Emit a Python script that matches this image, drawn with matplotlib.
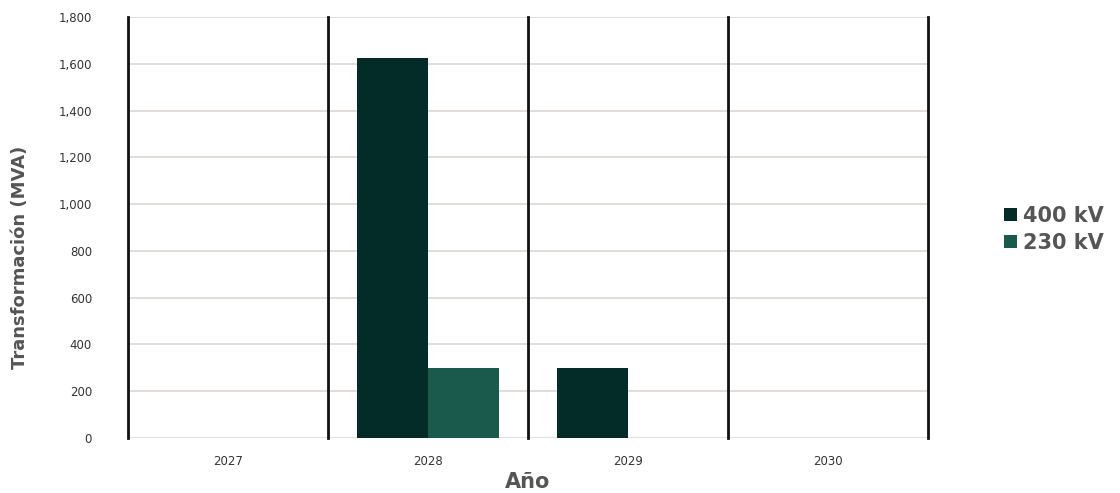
import matplotlib
matplotlib.use("Agg")
import matplotlib.pyplot as plt
import numpy as np
from matplotlib.ticker import FuncFormatter

years = ["2027", "2028", "2029", "2030"]
mva_400 = [0, 1625, 300, 0]
mva_230 = [0, 300, 0, 0]
series_labels = ["400 kV", "230 kV"]
colors = ["#032b27", "#1a5a4d"]

plt.rcParams["font.family"] = ["DejaVu Sans"]

fig = plt.figure(figsize=(11.2, 4.93), dpi=100)
ax = fig.add_axes([0.1143, 0.1116, 0.7143, 0.8539])

x = np.arange(len(years))
w = 0.355
b1 = ax.bar(x - w / 2, mva_400, width=w, align="center", color=colors[0], label=series_labels[0], zorder=3)
b2 = ax.bar(x + w / 2, mva_230, width=w, align="center", color=colors[1], label=series_labels[1], zorder=3)

ax.set_xlim(-0.5, len(years) - 0.5)
ax.set_ylim(0, 1800)
ax.set_yticks(np.arange(0, 1801, 200))
ax.yaxis.set_major_formatter(FuncFormatter(lambda v, p: f"{int(v):,}"))
ax.set_xticks(x)
ax.set_xticklabels(years)

ax.grid(axis="y", color="#dcd7d3", linewidth=1.2, zorder=0)
for b in np.arange(-0.5, len(years), 1.0):
    ax.axvline(b, color="#111111", linewidth=2, zorder=4, clip_on=False)

for s in ax.spines.values():
    s.set_visible(False)
ax.tick_params(axis="both", length=0, labelsize=8.5, colors="#333333")
ax.tick_params(axis="y", pad=26)
ax.tick_params(axis="x", pad=12)

ax.set_xlabel("Año", fontsize=15, fontweight="bold", color="#555555", labelpad=3)
ax.set_ylabel("Transformación (MVA)", fontsize=13, fontweight="bold", color="#555555")
ax.yaxis.set_label_coords(-0.124, 0.43)

leg = fig.legend(handles=[b1, b2], labels=series_labels, loc="center left",
                 bbox_to_anchor=(0.88, 0.535), frameon=False, handlelength=0.6,
                 handleheight=0.6, handletextpad=0.3, labelspacing=0.35,
                 prop={"size": 15, "weight": "bold"})
for t in leg.get_texts():
    t.set_color("#555555")

fig.savefig("out.png", dpi=100, facecolor="white")
